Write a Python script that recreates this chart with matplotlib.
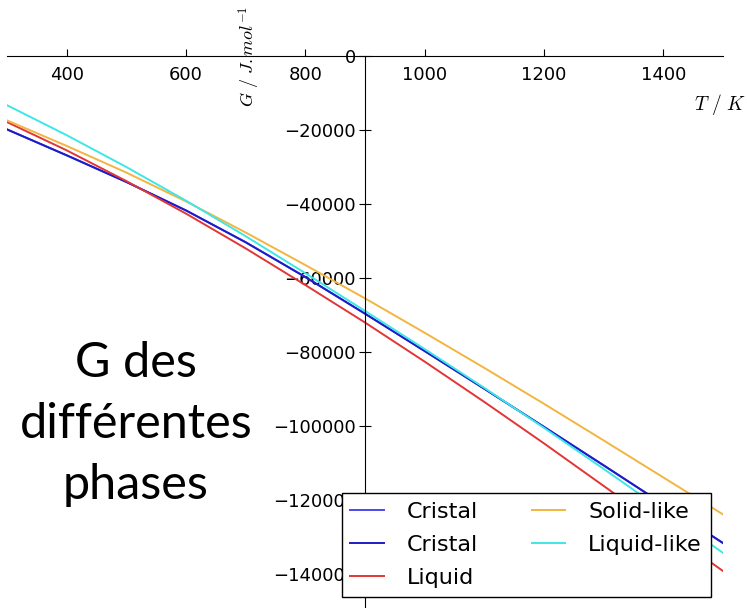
import matplotlib
matplotlib.use("Agg")
import matplotlib.pyplot as plt

plt.rcParams['mathtext.fontset'] = 'cm'
plt.rcParams['font.family'] = 'DejaVu Sans'

# Temperature grid (K)
T = [300, 400, 500, 600, 700, 800, 900, 1000, 1100, 1200, 1300, 1400, 1500]

# Gibbs free energy of each phase (J/mol)
G_cristal = [-19840, -26840, -34040, -41740, -50340, -59740, -69640, -79740,
             -89940, -100240, -110640, -121140, -131640]
G_liquid = [-17860, -25500, -33800, -42600, -52000, -61900, -72030, -82600,
            -93500, -104700, -116200, -127700, -139200]
G_solid_like = [-17400, -24300, -31500, -39300, -47700, -56500, -65500, -74800,
                -84300, -94000, -103900, -113900, -123900]
G_liquid_like = [-13300, -21400, -30000, -39100, -48700, -58700, -68900, -79200,
                 -89700, -100500, -111600, -122900, -134300]

fig = plt.figure(figsize=(7.47, 6.08), dpi=100)
ax = fig.add_axes([7 / 747, -3 / 608, 716 / 747, 555 / 608])

lw = 1.4
ax.plot(T, G_cristal, color='#4a4ae8', lw=lw, label='Cristal')
ax.plot(T, G_cristal, color='#1c1cc8', lw=lw, label='Cristal')
ax.plot(T, G_liquid, color='#e33535', lw=lw, label='Liquid')
ax.plot(T, G_solid_like, color='#f2b540', lw=lw, label='Solid-like')
ax.plot(T, G_liquid_like, color='#3fe6e6', lw=lw, label='Liquid-like')

ax.set_xlim(300, 1500)
ax.set_ylim(-150000, 0)
ax.set_xticks([400, 600, 800, 1000, 1200, 1400])
ax.set_yticks(list(range(-140000, 1, 20000)))

# axes crossing at (900, 0)
ax.spines['left'].set_position(('data', 900))
ax.spines['bottom'].set_position(('data', 0))
ax.spines['right'].set_visible(False)
ax.spines['top'].set_visible(False)
ax.xaxis.set_ticks_position('bottom')
ax.yaxis.set_ticks_position('left')
ax.tick_params(axis='x', direction='in', length=5, pad=7, labelsize=13)
ax.tick_params(axis='y', direction='inout', length=9, pad=2, labelsize=13)

ax.set_xlabel(r'$T\ /\ K$', fontsize=14)
ax.xaxis.set_label_coords(0.996, 0.935)
ax.set_ylabel(r'$G\ /\ J.mol^{-1}$', fontsize=13)
ax.yaxis.set_label_coords(0.356, 1.0)

leg = ax.legend(ncol=2, loc='lower right', bbox_to_anchor=(0.983, 0.025),
                fontsize=16, frameon=True, fancybox=False, framealpha=1,
                handlelength=1.5, handletextpad=1.05, columnspacing=2.4,
                labelspacing=0.6, borderaxespad=0)
leg.get_frame().set_edgecolor('black')

fig.text(0.182, 0.303, "G des\ndifférentes\nphases", family='Lato', fontsize=35,
         ha='center', va='center', multialignment='center', linespacing=1.47)

fig.savefig('out.png', dpi=100)
